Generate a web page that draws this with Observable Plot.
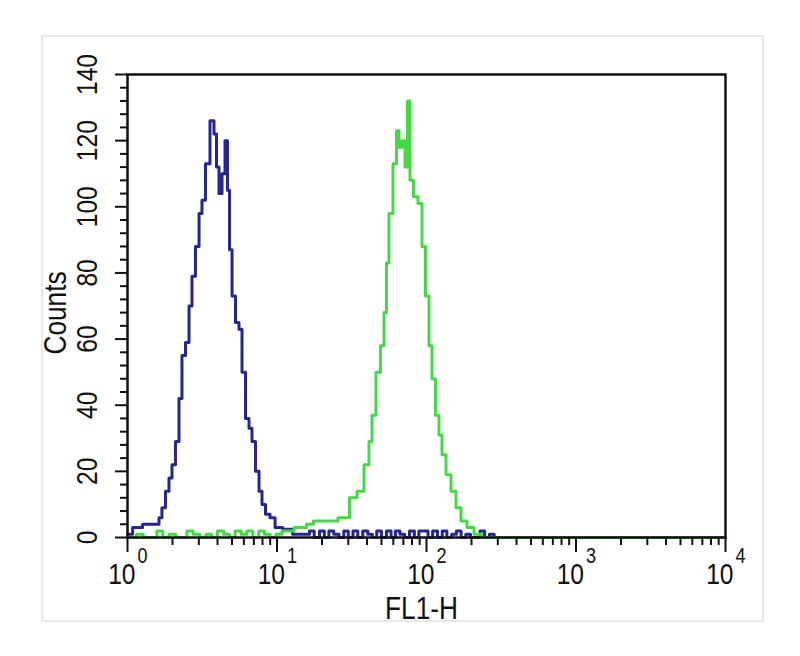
<!DOCTYPE html>
<html>
<head>
<meta charset="utf-8">
<script src="https://cdn.jsdelivr.net/npm/d3@7"></script>
<script src="https://cdn.jsdelivr.net/npm/@observablehq/plot@0.6"></script>
<style>
  html, body { margin: 0; padding: 0; background: #ffffff; }
  #wrap { position: relative; width: 800px; height: 656px; }
  #border { position: absolute; left: 41px; top: 35px; width: 719px; height: 583px; border: 2px solid #e8e8e8; }
  #chart { position: absolute; left: 0; top: 0; }
</style>
</head>
<body>
<div id="wrap"><div id="border"></div><div id="chart"></div></div>
<script>
// Blue histogram (control): FL1-H value, counts
const blueX = [1.00, 1.17, 1.36, 1.59, 1.66, 1.74, 1.85, 1.94, 2.03, 2.16, 2.26, 2.37, 2.52, 2.64, 2.76, 2.94, 3.08, 3.22, 3.43, 3.70, 3.88, 4.00, 4.19, 4.39, 4.59, 4.74, 4.89, 5.12, 5.44, 5.70, 5.97, 6.35, 6.65, 6.96, 7.41, 7.76, 8.12, 8.64, 9.33, 10.1, 11.8, 13.7, 16.0,
  17, 18.5, 20, 21.5, 23, 25, 27, 29, 31, 33.5, 36, 39, 42, 45, 48, 52, 56, 60, 64, 69, 74, 80, 86, 92, 99, 106, 114, 123, 132, 142, 153, 164, 177, 190, 204, 220, 236, 254, 273, 294, 316, 340, 10000];
const blueY = [1, 3, 4, 4, 6, 9, 14, 18, 22, 29, 42, 55, 59, 70, 79, 88, 98, 102, 113, 126, 122, 112, 104, 110, 120, 105, 87, 73, 65, 63, 50, 36, 33, 29, 20, 14, 10, 7, 6, 3, 2.5, 1, 1,
  2, 0, 2, 0, 2, 1, 0, 2, 0, 2, 0, 2, 1, 0, 2, 0, 2, 0, 2, 1, 0, 2, 0, 2, 2, 0, 2, 0, 2, 0, 1, 2, 0, 1, 0, 0, 2, 0, 1, 0, 0, 0];

// Green histogram (antibody): FL1-H value, counts
const greenX = [1, 1.1, 1.2, 1.35, 1.5, 1.65, 1.8, 2.0, 2.2, 2.4, 2.6, 2.9, 3.2, 3.5, 3.8, 4.2, 4.6, 5.0, 5.5, 6.0, 6.6, 7.2, 7.9, 8.6, 9.4, 10.3, 11.3, 12.4, 13.6, 15, 16.5,
  18.7, 22.8, 28.7, 32.5, 36.2, 40.3, 42.2, 44.2, 47.7, 50.8, 53.2, 54.8, 57.4, 62.0, 64.0, 67.0, 70.2, 73.5, 75.8, 79.4, 84.4, 91.2, 95.5, 101.5, 106.4, 111.4, 118.4, 124.1, 129.9, 140.3, 151.6, 163.7, 176.8, 197.0, 219.3, 248, 10000];
const greenY = [0, 0, 1, 0, 0, 2, 0, 1, 0, 0, 2, 1, 0, 1, 0, 2, 1, 0, 2, 1, 2, 0, 2, 1, 0, 1, 2, 2, 3, 3, 4,
  5, 5, 6, 12, 14, 22, 29, 37, 50, 58, 68, 83, 98, 113, 123, 118, 120, 112, 132, 108, 103, 101, 88, 73, 58, 48, 37, 31, 25, 19, 14, 9, 5, 3, 1, 0, 0];

const yMajor = [0, 20, 40, 60, 80, 100, 120, 140];
const yMinor = [4, 8, 12, 16, 24, 28, 32, 36, 44, 48, 52, 56, 64, 68, 72, 76, 84, 88, 92, 96, 104, 108, 112, 116, 124, 128, 132, 136];
const xMajor = [1, 10, 100, 1000, 10000];
const xExp = ["0", "1", "2", "3", "4"];
const xMinor = [2, 3, 4, 5, 6, 7, 8, 9, 20, 30, 40, 50, 60, 70, 80, 90, 200, 300, 400, 500, 600, 700, 800, 900, 2000, 3000, 4000, 5000, 6000, 7000, 8000, 9000];
const xTitle = "FL1-H";
const yTitle = "Counts";

const blue = blueX.map((x, i) => ({x, y: blueY[i]}));
const green = greenX.map((x, i) => ({x, y: greenY[i]}));
const majors = xMajor.map((v, i) => ({v, e: xExp[i]}));

const FONT = "'Liberation Sans', Arial, sans-serif";
const txt = {fill: "#111", lineAnchor: "middle"};

const chart = Plot.plot({
  width: 800,
  height: 656,
  marginLeft: 127,
  marginRight: 75,
  marginTop: 74,
  marginBottom: 119,
  x: {type: "log", domain: [1, 10000]},
  y: {domain: [0, 140]},
  style: {fontFamily: FONT, color: "#111", background: "transparent", overflow: "visible"},
  marks: [
    Plot.line(blue, {x: "x", y: "y", curve: "step", stroke: "#26268e", strokeWidth: 3}),
    Plot.line(green, {x: "x", y: "y", curve: "step", stroke: "#46d846", strokeWidth: 3}),
    Plot.frame({stroke: "#111", strokeWidth: 2.5}),
    Plot.axisY({ticks: yMinor, tickSize: 7, tickFormat: () => "", strokeWidth: 2, label: null, stroke: "#111"}),
    Plot.axisY({ticks: yMajor, tickSize: 12, tickFormat: () => "", strokeWidth: 2, label: null, stroke: "#111"}),
    Plot.text(yMajor, {...txt, y: d => d, text: d => String(d), frameAnchor: "left", textAnchor: "middle", dx: -40, rotate: -90, fontSize: 30}),
    Plot.axisX({ticks: xMinor, tickSize: 8, tickFormat: () => "", strokeWidth: 2, label: null, stroke: "#111"}),
    Plot.axisX({ticks: xMajor, tickSize: 15, tickFormat: () => "", strokeWidth: 2, label: null, stroke: "#111"}),
    Plot.text(majors, {...txt, x: "v", text: () => "10", frameAnchor: "bottom", dy: 37, dx: 8, textAnchor: "end", fontSize: 30}),
    Plot.text(majors, {...txt, x: "v", text: "e", frameAnchor: "bottom", dy: 18, dx: 10, textAnchor: "start", fontSize: 22}),
    Plot.text([xTitle], {...txt, text: d => d, frameAnchor: "bottom", textAnchor: "middle", dy: 71, dx: -5, fontSize: 32}),
    Plot.text([yTitle], {...txt, text: d => d, frameAnchor: "left", textAnchor: "middle", dx: -72, dy: 7, rotate: -90, fontSize: 32})
  ]
});

// Condense the lettering along the text direction, like the narrow face in the reference.
const SX = 0.82;
d3.select(chart).selectAll("text").each(function () {
  const t = d3.select(this);
  const tr = t.attr("transform");
  if (tr) {
    t.attr("transform", tr + ` scale(${SX},1)`);
  } else {
    const x = +(t.attr("x") || 0), y = +(t.attr("y") || 0);
    t.attr("x", null).attr("y", null).attr("transform", `translate(${x},${y}) scale(${SX},1)`);
  }
});

document.getElementById("chart").appendChild(chart);
</script>
</body>
</html>
